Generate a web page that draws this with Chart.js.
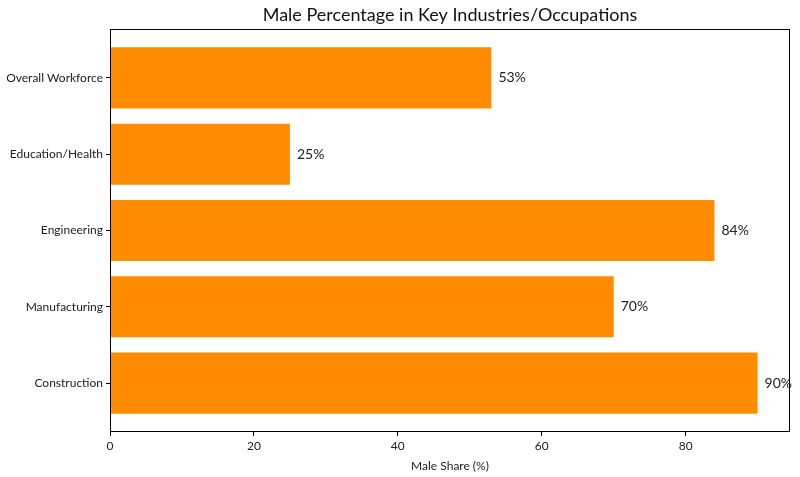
<!DOCTYPE html>
<html>
<head>
<meta charset="utf-8">
<script src="https://cdn.jsdelivr.net/npm/chart.js@4"></script>
<style>
  html, body { margin: 0; padding: 0; background: #fff; }
  #wrap { width: 800px; height: 477px; }
</style>
</head>
<body>
<div id="wrap"><canvas id="maleShare"></canvas></div>
<script>
// categories top to bottom, as shown
const categories = ['Overall Workforce', 'Education/Health', 'Engineering', 'Manufacturing', 'Construction'];
const maleShare = [53, 25, 84, 70, 90];
const xTicks = [0, 20, 40, 60, 80];

const FONT = 'Lato, "Noto Sans", sans-serif';

// frame, title and value labels
const extras = {
  id: 'extras',
  afterDatasetsDraw(chart) {
    const ctx = chart.ctx;
    const a = chart.chartArea;
    ctx.save();
    ctx.strokeStyle = '#000';
    ctx.lineWidth = 1;
    ctx.strokeRect(a.left + 0.5, a.top + 0.5, a.right - a.left - 1, a.bottom - a.top - 1);

    ctx.fillStyle = '#222';
    ctx.font = '14px ' + FONT;
    ctx.textBaseline = 'middle';
    ctx.textAlign = 'left';
    chart.getDatasetMeta(0).data.forEach((bar, i) => {
      ctx.fillText(maleShare[i] + '%', bar.x + 7, bar.y);
    });

    ctx.font = '18px ' + FONT;
    ctx.textAlign = 'center';
    ctx.textBaseline = 'middle';
    ctx.fillStyle = '#111';
    ctx.fillText('Male Percentage in Key Industries/Occupations', (a.left + a.right) / 2, 15);
    ctx.restore();
  }
};

new Chart(document.getElementById('maleShare'), {
  type: 'bar',
  data: {
    datasets: [{
      data: maleShare.map((v, i) => ({ x: v, y: i })),
      backgroundColor: '#FF8C00',
      borderWidth: 0,
      categoryPercentage: 1,
      barPercentage: 0.8
    }]
  },
  options: {
    indexAxis: 'y',
    responsive: true,
    maintainAspectRatio: false,
    animation: false,
    layout: { padding: { top: 29, right: 10, left: 0, bottom: 0 } },
    plugins: { legend: { display: false }, tooltip: { enabled: false } },
    scales: {
      x: {
        type: 'linear',
        min: 0,
        max: 94.5,
        afterBuildTicks: s => { s.ticks = xTicks.map(v => ({ value: v })); },
        afterFit: s => { s.height = 45; },
        grid: { drawOnChartArea: false, drawTicks: true, tickLength: 4, tickColor: '#000' },
        border: { display: false },
        ticks: { color: '#222', font: { family: FONT, size: 12 }, padding: 3 },
        title: { display: true, text: 'Male Share (%)', color: '#222', font: { family: FONT, size: 12 }, padding: { top: 2 } }
      },
      y: {
        type: 'linear',
        min: -0.64,
        max: 4.64,
        reverse: true,
        offset: false,
        afterBuildTicks: s => { s.ticks = categories.map((c, i) => ({ value: i })); },
        afterFit: s => { s.width = 110; },
        grid: { offset: false, drawOnChartArea: false, drawTicks: true, tickLength: 4, tickColor: '#000' },
        border: { display: false },
        ticks: {
          color: '#222',
          font: { family: FONT, size: 12 },
          padding: 3,
          callback: v => categories[v]
        }
      }
    }
  },
  plugins: [extras]
});
</script>
</body>
</html>
